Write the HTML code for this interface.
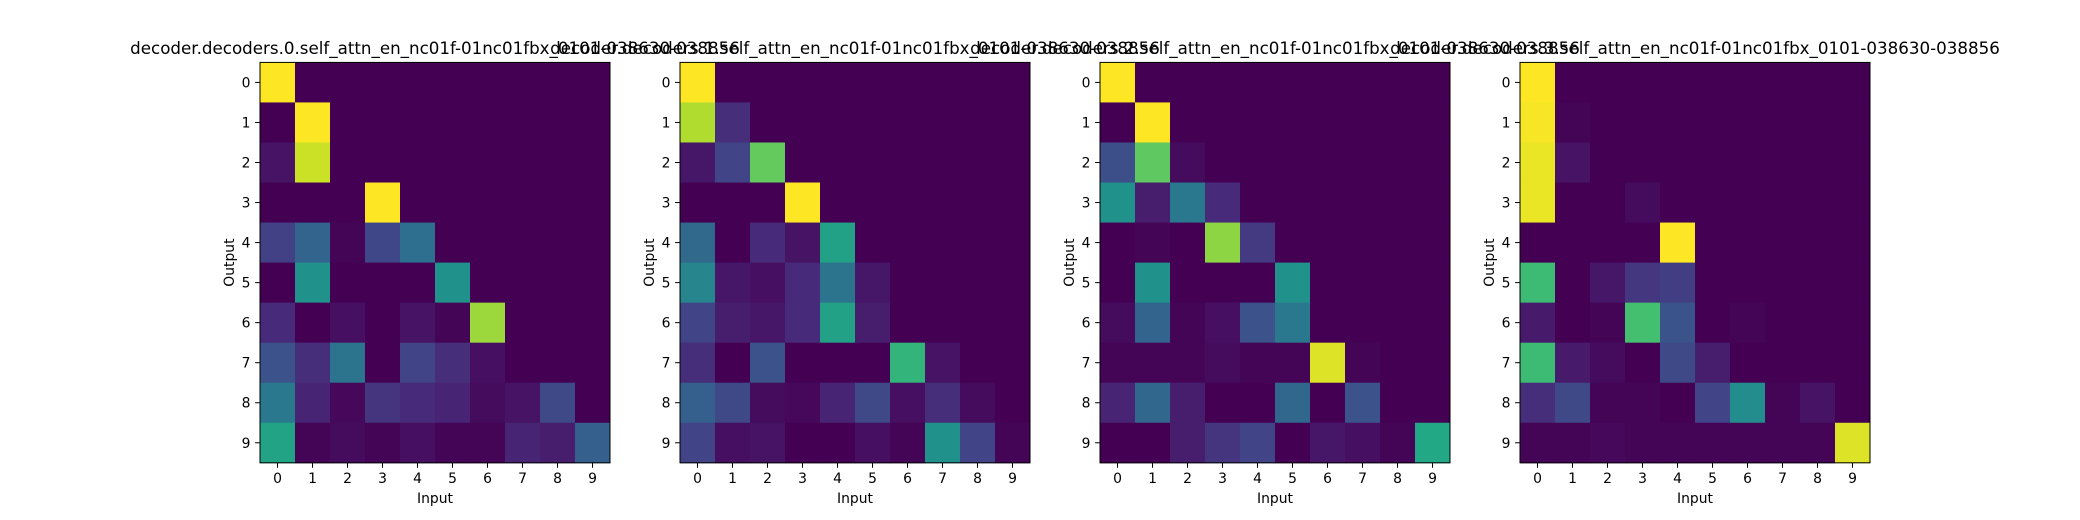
<!DOCTYPE html>
<html><head><meta charset="utf-8">
<style>
html,body{margin:0;padding:0;background:#fff;}
svg{display:block;font-family:"DejaVu Sans","Liberation Sans",sans-serif;}
</style></head>
<body>
<svg id="fig" width="2080" height="520" viewBox="0 0 2080 520" xmlns="http://www.w3.org/2000/svg"></svg>
<script>
const titles = [
 "decoder.decoders.0.self_attn_en_nc01f-01nc01fbx_0101-038630-038856",
 "decoder.decoders.1.self_attn_en_nc01f-01nc01fbx_0101-038630-038856",
 "decoder.decoders.2.self_attn_en_nc01f-01nc01fbx_0101-038630-038856",
 "decoder.decoders.3.self_attn_en_nc01f-01nc01fbx_0101-038630-038856"
];
const tickLabels = ["0","1","2","3","4","5","6","7","8","9"];
const head0 = [
 [1,0,0,0,0,0,0,0,0,0],
 [0,1,0,0,0,0,0,0,0,0],
 [0.05,0.92,0,0,0,0,0,0,0,0],
 [0,0,0,1,0,0,0,0,0,0],
 [0.19,0.32,0.01,0.21,0.36,0,0,0,0,0],
 [0,0.5,0,0,0,0.5,0,0,0,0],
 [0.12,0,0.04,0,0.05,0.01,0.85,0,0,0],
 [0.25,0.13,0.38,0,0.2,0.13,0.04,0,0,0],
 [0.4,0.1,0.02,0.15,0.12,0.1,0.03,0.05,0.22,0],
 [0.58,0.01,0.03,0.01,0.04,0.01,0.01,0.1,0.08,0.3]
];
const head1 = [
 [1,0,0,0,0,0,0,0,0,0],
 [0.88,0.13,0,0,0,0,0,0,0,0],
 [0.06,0.2,0.76,0,0,0,0,0,0,0],
 [0,0,0,1,0,0,0,0,0,0],
 [0.34,0,0.12,0.05,0.57,0,0,0,0,0],
 [0.45,0.06,0.04,0.12,0.38,0.06,0,0,0,0],
 [0.2,0.08,0.06,0.12,0.57,0.08,0,0,0,0],
 [0.13,0,0.25,0,0,0,0.65,0.05,0,0],
 [0.3,0.22,0.03,0.02,0.1,0.22,0.04,0.13,0.03,0],
 [0.2,0.04,0.05,0,0,0.04,0.01,0.5,0.2,0.01]
];
const head2 = [
 [1,0,0,0,0,0,0,0,0,0],
 [0,1,0,0,0,0,0,0,0,0],
 [0.24,0.75,0.03,0,0,0,0,0,0,0],
 [0.5,0.08,0.4,0.12,0,0,0,0,0,0],
 [0,0.01,0,0.83,0.17,0,0,0,0,0],
 [0,0.5,0,0,0,0.5,0,0,0,0],
 [0.03,0.32,0.01,0.04,0.25,0.4,0,0,0,0],
 [0.01,0.01,0.01,0.03,0.01,0.01,0.95,0.01,0,0],
 [0.1,0.33,0.08,0,0,0.33,0,0.25,0,0],
 [0,0,0.08,0.15,0.2,0,0.06,0.04,0.01,0.6]
];
const head3 = [
 [1,0,0,0,0,0,0,0,0,0],
 [0.99,0.01,0,0,0,0,0,0,0,0],
 [0.97,0.05,0,0,0,0,0,0,0,0],
 [0.97,0,0,0.03,0,0,0,0,0,0],
 [0,0,0,0,1,0,0,0,0,0],
 [0.68,0,0.06,0.16,0.18,0,0,0,0,0],
 [0.07,0,0.01,0.7,0.26,0,0.01,0,0,0],
 [0.68,0.07,0.03,0,0.22,0.08,0,0,0,0],
 [0.13,0.22,0.01,0.01,0,0.2,0.48,0.01,0.05,0],
 [0.01,0.01,0.02,0.01,0.01,0.01,0.01,0.01,0.01,0.95]
];
const heads = [head0, head1, head2, head3];

const VIR = ["#440154","#482475","#414487","#355f8d","#2a788e","#21918c","#22a884","#44bf70","#7ad151","#bddf26","#fde725"];
function hex(h){return [parseInt(h.substr(1,2),16),parseInt(h.substr(3,2),16),parseInt(h.substr(5,2),16)];}
function viridis(v){
  v=Math.max(0,Math.min(1,v));
  const p=v*10, i=Math.min(9,Math.floor(p)), t=p-i;
  const a=hex(VIR[i]), b=hex(VIR[i+1]);
  return "rgb("+a.map((x,k)=>Math.round(x+(b[k]-x)*t)).join(",")+")";
}
const NS="http://www.w3.org/2000/svg";
const svg=document.getElementById("fig");
function mk(tag,attrs,parent){const e=document.createElementNS(NS,tag);for(const k in attrs)e.setAttribute(k,attrs[k]);(parent||svg).appendChild(e);return e;}

const AX_W=350, AX_H=400.4, TOP=62.4, LEFT0=260, STEP=420;
heads.forEach((M,h)=>{
  const L=LEFT0+h*STEP;
  const n=tickLabels.length;
  const cw=AX_W/n, ch=AX_H/M.length;
  const xs=c=>L+c*cw, ys=r=>TOP+r*ch;
  const g=mk("g",{});
  
  
  M.forEach((row,r)=>row.forEach((v,c)=>{
    const rc=mk("rect",{x:xs(c),y:ys(r),width:cw+0.5,height:ch+0.5,fill:viridis(v)},g);
    
    
  }));
  const fr=mk("rect",{x:L,y:TOP,width:AX_W,height:AX_H,fill:"none",stroke:"#000","stroke-width":1},g);
  
  
  for(let i=0;i<n;i++){
    const cx=xs(i)+cw/2, cy=ys(i)+ch/2;
    mk("line",{x1:cx,y1:TOP+AX_H,x2:cx,y2:TOP+AX_H+4.9,stroke:"#000","stroke-width":1},g);
    const xt=mk("text",{x:cx,y:TOP+AX_H+20,"font-size":"13.9","text-anchor":"middle",fill:"#000"},g);
    xt.textContent=tickLabels[i];
    
    
    mk("line",{x1:L,y1:cy,x2:L-4.9,y2:cy,stroke:"#000","stroke-width":1},g);
    const yt=mk("text",{x:L-9.5,y:cy+5,"font-size":"13.9","text-anchor":"end",fill:"#000"},g);
    yt.textContent=tickLabels[i];
    
    
  }
  const xl=mk("text",{x:L+AX_W/2,y:503,"font-size":"13.9","text-anchor":"middle",fill:"#000"},g);
  xl.textContent="Input";
  
  
  const yl=mk("text",{x:0,y:0,"font-size":"13.9","text-anchor":"middle",fill:"#000",transform:"translate("+(L-26)+","+(TOP+AX_H/2)+") rotate(-90)"},g);
  yl.textContent="Output";
  
  
  const tt=mk("text",{x:L+AX_W/2,y:54,"font-size":"16.7","text-anchor":"middle",fill:"#000"},g);
  tt.textContent=titles[h];
  
  
});
</script>
</body></html>
